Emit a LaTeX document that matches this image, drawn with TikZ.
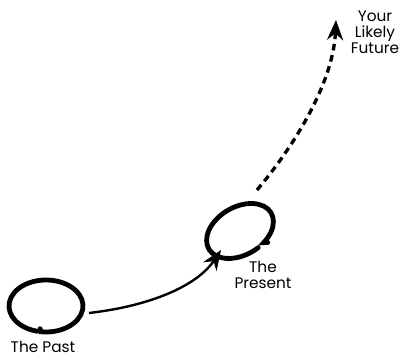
\documentclass[tikz,border=0pt]{standalone}
\usepackage{fontspec}
\setmainfont{Poppins}
\usetikzlibrary{arrows.meta}

\begin{document}
\begin{tikzpicture}[x=0.75pt,y=0.75pt,
	loopline/.style={line width=3.6pt,line cap=round},
	moveline/.style={line width=1.8pt,-{Stealth[length=15pt,width=12pt]}},
	guessline/.style={line width=2.5pt,dash pattern=on 5pt off 3.6pt,-{Stealth[length=15pt,width=12pt]}},
	tag/.style={font=\fontsize{11.5}{12}\selectfont,align=center,inner sep=0pt}]
	\useasboundingbox (0,0) rectangle (399,356);
	\coordinate (pastc) at (46,50);
	\coordinate (presentc) at (240,125);
	\coordinate (pastout) at (89,43);
	\coordinate (presentin) at (221,106);
	\coordinate (presentout) at (257,166);
	\coordinate (futurein) at (336,336);
	\begin{scope}[shift={(pastc)}]
		\draw[loopline] (-100:34 and 23) -- (-98:37 and 26) arc[start angle=-98,end angle=256,x radius=37,y radius=26];
	\end{scope}
	\begin{scope}[shift={(presentc)},rotate=30]
		\draw[loopline] (-62:39 and 27) -- (-66:36 and 24) arc[start angle=-66,end angle=282,x radius=36,y radius=24];
	\end{scope}
	\node[tag] (past) at (43,9) {The Past};
	\node[tag] (present) at (263,81) {The\\Present};
	\node[tag] (future) at (375,324) {Your\\Likely\\Future};
	\draw[moveline] (pastout) .. controls (150,50) and (197,70) .. (presentin);
	\draw[guessline] (presentout) .. controls (290,205) and (333,270) .. (futurein);
\end{tikzpicture}
\end{document}
